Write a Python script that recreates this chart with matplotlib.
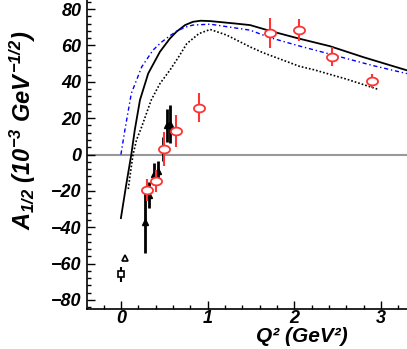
import numpy as np
import matplotlib.pyplot as plt
from matplotlib.path import Path
from matplotlib.ticker import MultipleLocator

plt.rcParams['font.family'] = 'Liberation Sans'
plt.rcParams['mathtext.fontset'] = 'custom'
plt.rcParams['mathtext.rm'] = 'Liberation Sans:bold:italic'
plt.rcParams['mathtext.it'] = 'Liberation Sans:bold:italic'
plt.rcParams['mathtext.bf'] = 'Liberation Sans:bold:italic'

# model curves
solid_x = [0.0, 0.06, 0.12, 0.16, 0.22, 0.315, 0.45, 0.565, 0.64, 0.74, 0.83, 0.92,
           1.03, 1.33, 1.49, 1.72, 2.06, 2.41, 2.8, 3.3]
solid_y = [-35, -17, 0, 13.5, 30, 44.6, 56.5, 63.8, 67.5, 71.2, 73, 73.6,
           73.4, 72, 71.2, 68, 63.7, 59.6, 53.5, 46.3]

blue_x = [0.0, 0.046, 0.12, 0.24, 0.37, 0.46, 0.55, 0.64, 0.74, 0.83, 1.03,
          1.49, 1.72, 2.05, 2.43, 2.9, 3.3]
blue_y = [0, 13.5, 33.6, 48.2, 57.4, 61.5, 64.8, 67.8, 70, 71.2, 71.7,
          68.4, 64.3, 59.8, 55, 49, 44.5]

dot_x = [0.085, 0.11, 0.14, 0.18, 0.24, 0.35, 0.45, 0.565, 0.67, 0.76, 0.9,
         1.03, 1.22, 1.49, 1.64, 2.06, 2.22, 2.6, 2.97]
dot_y = [-19, -10, 0, 8, 15.3, 30, 39, 46.4, 54, 61, 66.5,
         68.8, 65.7, 59.2, 56, 48.5, 46.7, 41.5, 35.8]

# red open circles
red_x = [0.30, 0.40, 0.50, 0.63, 0.90, 1.72, 2.05, 2.43, 2.90]
red_y = [-19.6, -14.4, 3.1, 12.8, 25.7, 66.7, 68.3, 53.9, 40.5]
red_e = [6, 6, 9.5, 8.8, 8, 8.3, 6, 5, 4]

# black filled triangles
tri_x = [0.277, 0.32, 0.38, 0.43, 0.48, 0.53, 0.57]
tri_y = [-37, -22.4, -10.7, -9.3, 3.1, 16, 17]
tri_e = [17, 7, 6, 6, 6.5, 9, 10.5]

# open triangle and square near Q2 = 0
otri_x = [0.05]
otri_y = [-56.7]
sq_x = [0.0]
sq_y = [-66]
sq_e = [4]

# flattened circle marker
t = np.linspace(0, 2 * np.pi, 41)
oval = Path(np.column_stack([np.cos(t), 0.7 * np.sin(t)]), closed=True)

fig = plt.figure(figsize=(4.07, 3.49), dpi=100)
ax = fig.add_axes([0.214, 0.1146, 0.786, 0.8854])

ax.axhline(0, color='#999999', lw=1.5, zorder=1)

ax.plot(solid_x, solid_y, color='black', lw=1.3, zorder=3)
ax.plot(blue_x, blue_y, color='blue', lw=1.0, ls=(0, (3, 2, 1, 2)), zorder=3)
ax.plot(dot_x, dot_y, color='black', lw=1.2, ls=(0, (1, 1.2)), zorder=3)

ax.errorbar(tri_x, tri_y, yerr=tri_e, fmt='^', color='black', ms=4.5,
            elinewidth=2.0, capsize=0, zorder=4)
ax.errorbar(red_x, red_y, yerr=red_e, fmt='none', ecolor='#ff3333',
            elinewidth=1.5, capsize=0, zorder=5)
ax.plot(red_x, red_y, ls='none', marker=oval, mfc='white', mec='#ff3333',
        mew=1.3, ms=8, zorder=6)
ax.plot(otri_x, otri_y, '^', color='black', mfc='white', mew=1.2, ms=4.5, zorder=4)
ax.errorbar(sq_x, sq_y, yerr=sq_e, fmt='s', color='black', mfc='white',
            mew=1.2, ms=4.5, elinewidth=1.5, capsize=0, zorder=4)

ax.set_xlim(-0.39, 3.3)
ax.set_ylim(-85, 85)

ax.xaxis.set_major_locator(MultipleLocator(1))
ax.xaxis.set_minor_locator(MultipleLocator(0.2))
ax.yaxis.set_major_locator(MultipleLocator(20))
ax.yaxis.set_minor_locator(MultipleLocator(4))
ax.tick_params(which='both', direction='in', width=1.0)
ax.tick_params(which='major', length=6, labelsize=13)
ax.tick_params(axis='x', which='major', pad=1)
ax.tick_params(axis='y', which='major', pad=4)
ax.tick_params(which='minor', length=3)
for lab in ax.get_xticklabels() + ax.get_yticklabels():
    lab.set_fontweight('bold')
    lab.set_fontstyle('italic')

for side in ['top', 'right']:
    ax.spines[side].set_visible(False)
for side in ['left', 'bottom']:
    ax.spines[side].set_linewidth(1.2)

# x label as plain text so it sits fully inside the figure
fig.text(0.742, 0.008, 'Q² (GeV²)', fontsize=15, fontweight='bold',
         fontstyle='italic', ha='center', va='bottom')
ax.set_ylabel(r'$A_{1/2}$ $(10^{-3}$ $GeV^{-1/2})$', fontsize=17)
ax.yaxis.set_label_coords(-0.153, 0.58)

fig.savefig('out.png', dpi=100)
